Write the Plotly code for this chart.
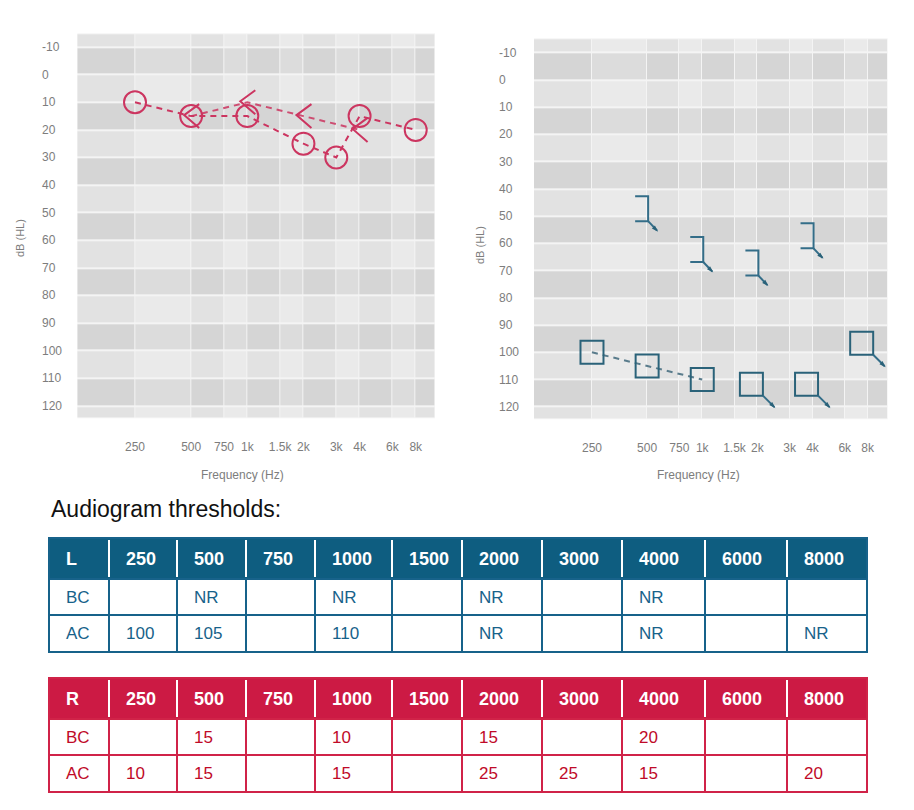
import numpy as np
import plotly.graph_objects as go

W, H = 914, 810

# ---------------- data ----------------
freqs = [250, 500, 750, 1000, 1500, 2000, 3000, 4000, 6000, 8000]
freq_labels = ["250", "500", "750", "1k", "1.5k", "2k", "3k", "4k", "6k", "8k"]
db_ticks = list(range(-10, 121, 10))

# Right ear (left panel, red)
r_ac_freq = [250, 500, 1000, 2000, 3000, 4000, 8000]
r_ac_db = [10, 15, 15, 25, 30, 15, 20]
r_bc_freq = [500, 1000, 2000, 4000]
r_bc_db = [15, 10, 15, 20]

# Left ear (right panel, blue)
l_ac_freq = [250, 500, 1000]
l_ac_db = [100, 105, 110]
l_ac_nr_freq = [2000, 4000, 8000]
l_ac_nr_db = [115, 115, 100]
l_bc_nr_freq = [500, 1000, 2000, 4000]
l_bc_nr_db = [50, 65, 70, 60]

# Threshold tables
table_cols = ["250", "500", "750", "1000", "1500", "2000", "3000", "4000", "6000", "8000"]
l_bc_row = ["", "NR", "", "NR", "", "NR", "", "NR", "", ""]
l_ac_row = ["100", "105", "", "110", "", "NR", "", "NR", "", "NR"]
r_bc_row = ["", "15", "", "10", "", "15", "", "20", "", ""]
r_ac_row = ["10", "15", "", "15", "", "25", "25", "15", "", "20"]

# ---------------- styling / layout ----------------
RED = "#cc3560"
BLUE = "#2a6279"
BLUE_BR = "#336d88"
BLUE_DASH = "#5a7c8c"
TICK = "#7d7d7d"
FONT = "Liberation Sans, Arial, sans-serif"

panels = [
    dict(x0=77.3, x1=435.0, y0=33.3, y1=418.3, xr=(122.6, 10150.0), yr=(124.5, -15.0),
         ylab_x=40, ytitle_x=20, ytitle_y=238, xtitle_x=243),
    dict(x0=534.0, x1=887.7, y0=38.3, y1=419.3, xr=(120.6, 10290.0), yr=(124.6, -15.3),
         ylab_x=497, ytitle_x=480, ytitle_y=245, xtitle_x=698),
]
for p in panels:
    p["ppo"] = (p["x1"] - p["x0"]) / np.log2(p["xr"][1] / p["xr"][0])
    p["ppd"] = (p["y1"] - p["y0"]) / (p["yr"][0] - p["yr"][1])

fig = go.Figure()
annotations = []
shapes = []

bg_scale = [[0, "#eaeaea"], [1 / 3, "#e2e2e2"], [2 / 3, "#dcdcdc"], [1, "#d5d5d5"]]

for i, p in enumerate(panels):
    xa = "x" if i == 0 else "x2"
    ya = "y" if i == 0 else "y2"
    xedges = [p["xr"][0]] + freqs + [p["xr"][1]]
    yedges = [p["yr"][1]] + db_ticks + [p["yr"][0]]
    z = []
    for r in range(len(yedges) - 1):
        lo = yedges[r]
        row_dark = 1 if (lo >= -10 and int(round((lo + 10) / 10)) % 2 == 0 and lo < 120) else 0
        z.append([row_dark * 2 + (1 if c % 2 == 0 else 0) for c in range(len(xedges) - 1)])
    fig.add_trace(go.Heatmap(x=xedges, y=yedges, z=z, colorscale=bg_scale, zmin=0, zmax=3,
                             showscale=False, xgap=1, ygap=2, hoverinfo="skip",
                             xaxis=xa, yaxis=ya))
    # y tick labels, left aligned
    for v in db_ticks:
        annotations.append(dict(x=p["ylab_x"] / W, xref="paper", y=v, yref=ya, text=str(v),
                                showarrow=False, xanchor="left", yanchor="middle",
                                font=dict(family=FONT, size=12, color=TICK)))
    annotations.append(dict(x=p["ytitle_x"] / W, xref="paper", y=1 - p["ytitle_y"] / H, yref="paper",
                            text="dB (HL)", textangle=-90, showarrow=False,
                            xanchor="center", yanchor="middle",
                            font=dict(family=FONT, size=11, color=TICK)))
    annotations.append(dict(x=p["xtitle_x"] / W, xref="paper", y=1 - 475 / H, yref="paper",
                            text="Frequency (Hz)", showarrow=False,
                            xanchor="center", yanchor="middle",
                            font=dict(family=FONT, size=12, color=TICK)))


def oct_shift(f, px, p):
    return f * 2 ** (px / p["ppo"])


def db_shift(v, px, p):
    return v + px / p["ppd"]


# ---- left panel: right ear ----
p = panels[0]
dash = "6px,5px"
fig.add_trace(go.Scatter(x=r_bc_freq, y=r_bc_db, mode="lines",
                         line=dict(color=RED, width=2, dash=dash), opacity=0.85,
                         hoverinfo="skip", xaxis="x", yaxis="y"))
fig.add_trace(go.Scatter(x=r_ac_freq, y=r_ac_db, mode="lines+markers",
                         line=dict(color=RED, width=2, dash=dash),
                         marker=dict(symbol="circle-open", size=22, color=RED,
                                     line=dict(width=2, color=RED)),
                         xaxis="x", yaxis="y"))
gx, gy = [], []
for f, v in zip(r_bc_freq, r_bc_db):
    gx += [oct_shift(f, 8, p), oct_shift(f, -7, p), oct_shift(f, 8, p), None]
    gy += [db_shift(v, -12, p), db_shift(v, -1, p), db_shift(v, 12, p), None]
fig.add_trace(go.Scatter(x=gx, y=gy, mode="lines", line=dict(color=RED, width=2),
                         hoverinfo="skip", xaxis="x", yaxis="y"))

# ---- right panel: left ear ----
p = panels[1]
fig.add_trace(go.Scatter(x=l_ac_freq, y=l_ac_db, mode="lines",
                         line=dict(color=BLUE_DASH, width=2, dash=dash),
                         hoverinfo="skip", xaxis="x2", yaxis="y2"))
fig.add_trace(go.Scatter(x=l_ac_freq, y=l_ac_db, mode="markers",
                         marker=dict(symbol="square-open", size=23, color=BLUE,
                                     line=dict(width=2, color=BLUE)),
                         xaxis="x2", yaxis="y2"))
# AC no-response: square with arrow
fig.add_trace(go.Scatter(x=[oct_shift(f, -6, p) for f in l_ac_nr_freq],
                         y=[db_shift(v, -9, p) for v in l_ac_nr_db], mode="markers",
                         marker=dict(symbol="square-open", size=23, color=BLUE,
                                     line=dict(width=2, color=BLUE)),
                         hoverinfo="skip", xaxis="x2", yaxis="y2"))
ax_, ay_ = [], []
tipx, tipy = [], []
for f, v in zip(l_ac_nr_freq, l_ac_nr_db):
    ax_ += [oct_shift(f, 5.5, p), oct_shift(f, 17, p), None]
    ay_ += [db_shift(v, 2.5, p), db_shift(v, 14, p), None]
    tipx.append(oct_shift(f, 18, p))
    tipy.append(db_shift(v, 15, p))
# BC no-response: bracket with arrow
bx, by = [], []
for f, v in zip(l_bc_nr_freq, l_bc_nr_db):
    bx += [oct_shift(f, -12, p), oct_shift(f, 1, p), oct_shift(f, 1, p), oct_shift(f, -12, p), None]
    by += [db_shift(v, -20, p), db_shift(v, -20, p), db_shift(v, 5, p), db_shift(v, 5, p), None]
    ax_ += [oct_shift(f, 1, p), oct_shift(f, 10, p), None]
    ay_ += [db_shift(v, 5, p), db_shift(v, 14.5, p), None]
    tipx.append(oct_shift(f, 11, p))
    tipy.append(db_shift(v, 15.5, p))
fig.add_trace(go.Scatter(x=bx, y=by, mode="lines", line=dict(color=BLUE_BR, width=2),
                         hoverinfo="skip", xaxis="x2", yaxis="y2"))
fig.add_trace(go.Scatter(x=ax_, y=ay_, mode="lines", line=dict(color=BLUE_BR, width=2),
                         hoverinfo="skip", xaxis="x2", yaxis="y2"))
fig.add_trace(go.Scatter(x=tipx, y=tipy, mode="markers",
                         marker=dict(symbol="arrow", angle=135, size=7, color=BLUE),
                         hoverinfo="skip", xaxis="x2", yaxis="y2"))

# ---------------- tables (shapes + text) ----------------
col_edges = [49, 109, 177, 246, 315, 392, 462, 542, 622, 705, 787, 867]
tables = [
    dict(label="L", rows=[("BC", l_bc_row), ("AC", l_ac_row)], top=538, hb=579, rb=[615, 652],
         head="#0e5d80", line="#17628a", text="#17628a"),
    dict(label="R", rows=[("BC", r_bc_row), ("AC", r_ac_row)], top=678, hb=719, rb=[755, 792],
         head="#cc1a44", line="#d02348", text="#c00a28"),
]


def px_x(v):
    return v / W


def px_y(v):
    return 1 - v / H


for t in tables:
    left, right = col_edges[0], col_edges[-1]
    bottom = t["rb"][-1]
    shapes.append(dict(type="rect", xref="paper", yref="paper", x0=px_x(left), x1=px_x(right),
                       y0=px_y(t["hb"]), y1=px_y(t["top"]), fillcolor=t["head"],
                       line=dict(width=0), layer="above"))
    shapes.append(dict(type="rect", xref="paper", yref="paper", x0=px_x(left), x1=px_x(right),
                       y0=px_y(bottom), y1=px_y(t["hb"]), fillcolor="white",
                       line=dict(width=0), layer="above"))
    for ce in col_edges[1:-1]:
        shapes.append(dict(type="line", xref="paper", yref="paper", x0=px_x(ce), x1=px_x(ce),
                           y0=px_y(t["hb"] - 2), y1=px_y(t["top"] + 2),
                           line=dict(color="white", width=2), layer="above"))
        shapes.append(dict(type="line", xref="paper", yref="paper", x0=px_x(ce), x1=px_x(ce),
                           y0=px_y(bottom), y1=px_y(t["hb"]),
                           line=dict(color=t["line"], width=2), layer="above"))
    for yb in [t["hb"]] + t["rb"][:-1]:
        shapes.append(dict(type="line", xref="paper", yref="paper", x0=px_x(left), x1=px_x(right),
                           y0=px_y(yb), y1=px_y(yb), line=dict(color=t["line"], width=2),
                           layer="above"))
    shapes.append(dict(type="rect", xref="paper", yref="paper", x0=px_x(left), x1=px_x(right),
                       y0=px_y(bottom), y1=px_y(t["top"]), fillcolor="rgba(0,0,0,0)",
                       line=dict(color=t["line"], width=2), layer="above"))
    # header text
    head_cells = [t["label"]] + table_cols
    yc = (t["top"] + t["hb"]) / 2
    for j, txt in enumerate(head_cells):
        annotations.append(dict(x=px_x(col_edges[j] + 15), xref="paper", y=px_y(yc), yref="paper",
                                text="<b>%s</b>" % txt, showarrow=False, xanchor="left",
                                yanchor="middle", font=dict(family=FONT, size=18, color="white")))
    row_tops = [t["hb"]] + t["rb"][:-1]
    for (name, vals), rt, rb in zip(t["rows"], row_tops, t["rb"]):
        yc = (rt + rb) / 2
        for j, txt in enumerate([name] + vals):
            if txt == "":
                continue
            annotations.append(dict(x=px_x(col_edges[j] + 15), xref="paper", y=px_y(yc),
                                    yref="paper", text=txt, showarrow=False, xanchor="left",
                                    yanchor="middle",
                                    font=dict(family=FONT, size=17, color=t["text"])))

annotations.append(dict(x=px_x(49), xref="paper", y=px_y(509), yref="paper",
                        text="Audiogram thresholds:", showarrow=False, xanchor="left",
                        yanchor="middle", font=dict(family=FONT, size=23, color="#111111")))


def xaxis_cfg(p):
    return dict(type="log", domain=[p["x0"] / W, p["x1"] / W],
                range=[np.log10(p["xr"][0]), np.log10(p["xr"][1])],
                tickvals=freqs, ticktext=freq_labels, showgrid=False, zeroline=False,
                showline=False, ticks="", ticklabelstandoff=20,
                tickfont=dict(family=FONT, size=12, color=TICK), fixedrange=True)


def yaxis_cfg(p):
    return dict(domain=[1 - p["y1"] / H, 1 - p["y0"] / H], range=list(p["yr"]),
                showticklabels=False, showgrid=False, zeroline=False, showline=False,
                ticks="", fixedrange=True)


fig.update_layout(
    width=W, height=H, margin=dict(l=0, r=0, t=0, b=0),
    paper_bgcolor="white", plot_bgcolor="#f4f4f4", showlegend=False,
    xaxis=dict(xaxis_cfg(panels[0]), anchor="y"),
    yaxis=dict(yaxis_cfg(panels[0]), anchor="x"),
    xaxis2=dict(xaxis_cfg(panels[1]), anchor="y2"),
    yaxis2=dict(yaxis_cfg(panels[1]), anchor="x2"),
    annotations=annotations, shapes=shapes,
    font=dict(family=FONT),
)

fig.write_html("out.html")
